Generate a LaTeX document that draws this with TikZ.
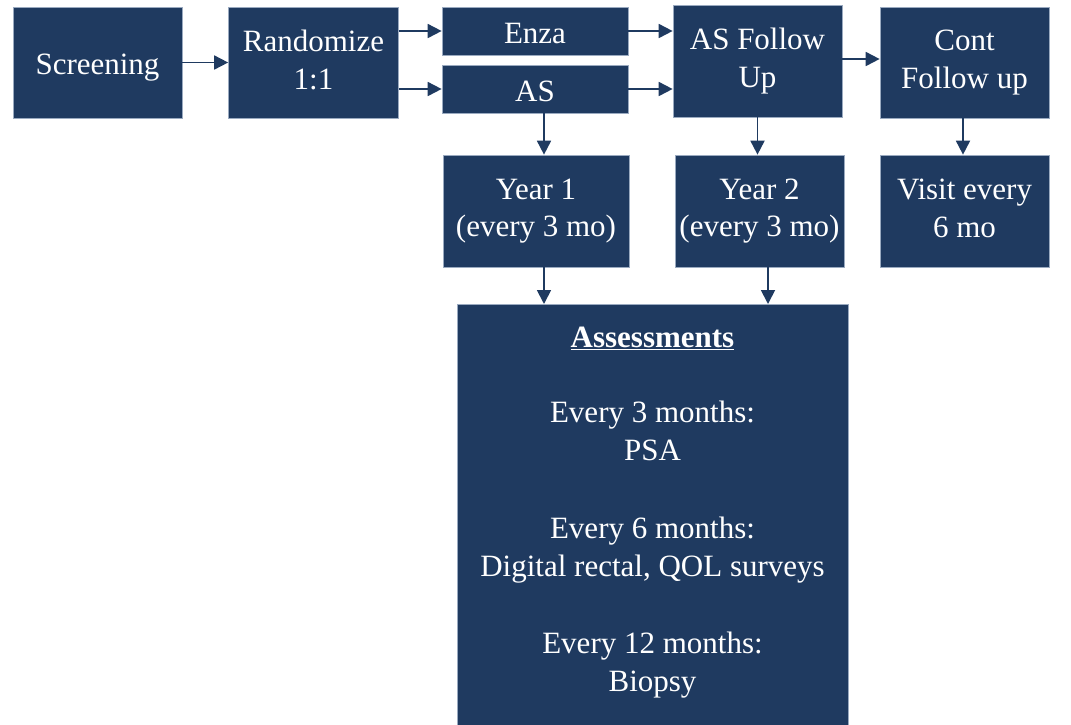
\documentclass[tikz,border=0pt]{standalone}
\usepackage{fontspec}
\setmainfont{Liberation Serif}
\usetikzlibrary{arrows.meta}
\definecolor{navy}{HTML}{1F3A60}
\definecolor{edge}{HTML}{9AAAC0}
\begin{document}
\begin{tikzpicture}[x=1pt,y=-1pt,
  box/.style={fill=navy,draw=edge,line width=0.7pt,text=white,align=center,inner sep=0pt,
    font=\fontsize{31}{37.5}\selectfont,
    execute at begin node={\rule{0pt}{30pt}},
    execute at end node={\rule[-6pt]{0pt}{6pt}}},
  txt/.style={text=white,anchor=base,inner sep=0pt,font=\fontsize{31}{37.5}\selectfont},
  conn/.style={draw=navy,line width=1.8pt,-{Triangle[length=14pt,width=14pt]}}]
\useasboundingbox (0,0) rectangle (1071,724);
\node[box,minimum width=169pt,minimum height=111pt] (scr) at (97.5,62.5) {Screening};
\node[box,minimum width=170pt,minimum height=111pt] (rand) at (313.5,62.5) {Randomize\\1:1};
\node[box,minimum width=186pt,minimum height=48pt] (enza) at (535,31) {Enza};
\node[box,minimum width=186pt,minimum height=48pt] (as) at (535,89) {AS};
\node[box,minimum width=169pt,minimum height=112pt] (asfu) at (757.5,61) {AS Follow\\Up};
\node[box,minimum width=169pt,minimum height=111pt] (cont) at (964.5,62.5) {Cont\\Follow up};
\node[box,minimum width=186pt,minimum height=112pt] (y1) at (536,211) {Year 1\\(every 3 mo)};
\node[box,minimum width=169pt,minimum height=112pt] (y2) at (759.5,211) {Year 2\\(every 3 mo)};
\node[box,minimum width=169pt,minimum height=112pt] (visit) at (964.5,211) {Visit every\\6 mo};
\node[fill=navy,draw=edge,line width=0.7pt,inner sep=0pt,minimum width=391pt,minimum height=430pt,anchor=north] (assess) at (652.5,304) {};
\node[txt] (t0) at (652.5,347) {\underline{\textbf{Assessments}}};
\node[txt] (t1) at (652.5,422) {Every 3 months:};
\node[txt] (t2) at (652.5,460) {PSA};
\node[txt] (t3) at (652.5,538) {Every 6 months:};
\node[txt] (t4) at (652.5,576) {Digital rectal, QOL surveys};
\node[txt] (t5) at (652.5,653) {Every 12 months:};
\node[txt] (t6) at (652.5,691) {Biopsy};
\draw[conn] (scr.east) -- (rand.west);
\draw[conn] (rand.east |- enza) -- (enza.west);
\draw[conn] (rand.east |- as) -- (as.west);
\draw[conn] (enza.east) -- (enza.east -| asfu.west);
\draw[conn] (as.east) -- (as.east -| asfu.west);
\draw[conn] (asfu.east |- 0,59) -- (cont.west |- 0,59);
\draw[conn] ([xshift=9pt]as.south) -- ([xshift=9pt]as.south |- y1.north);
\draw[conn] (asfu.south) -- (asfu.south |- y2.north);
\draw[conn] ([xshift=-1.5pt]cont.south) -- ([xshift=-1.5pt]visit.north);
\draw[conn] ([xshift=8pt]y1.south) -- ([xshift=8pt]y1.south |- assess.north);
\draw[conn] ([xshift=8.5pt]y2.south) -- ([xshift=8.5pt]y2.south |- assess.north);
\end{tikzpicture}
\end{document}
